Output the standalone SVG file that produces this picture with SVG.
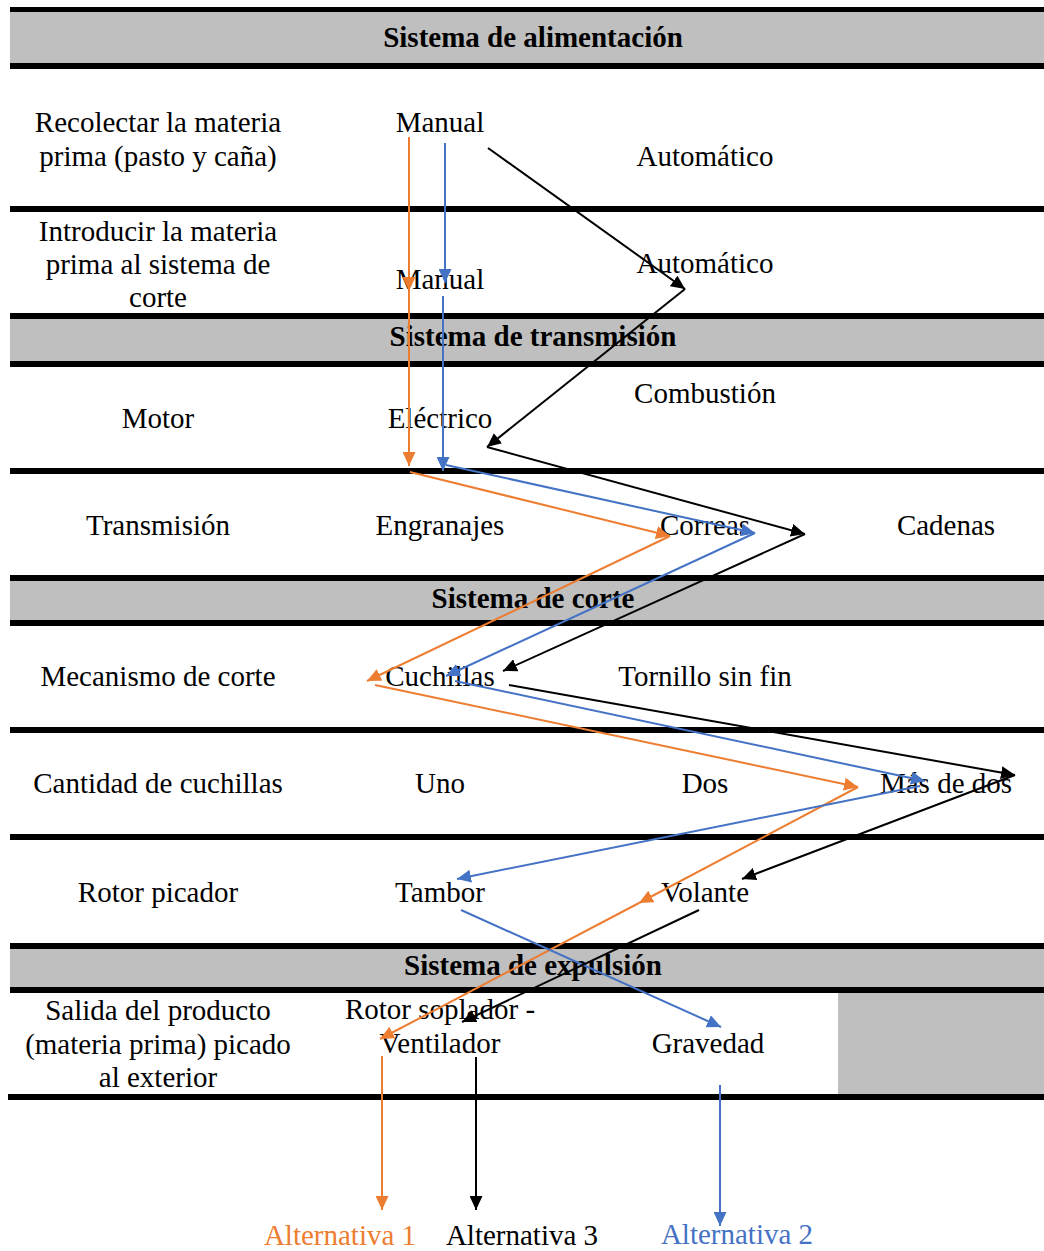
<svg xmlns="http://www.w3.org/2000/svg" width="1044" height="1251" viewBox="0 0 1044 1251">
  <style>
    .t { font-family: "Liberation Serif", "Times New Roman", serif; font-size: 29px; fill: #000; text-anchor: middle; }
    .h { font-family: "Liberation Serif", "Times New Roman", serif; font-size: 29px; font-weight: bold; fill: #000; text-anchor: middle; }
    .rule { fill: #000; }
    .band { fill: #bfbfbf; }
    .c { fill: none; stroke-width: 2; }
    .or { stroke: #ed7d31; }
    .bl { stroke: #4472c4; }
    .bk { stroke: #000; }
  </style>
  <defs>
    <marker id="aOr" markerUnits="userSpaceOnUse" markerWidth="14" markerHeight="13" refX="14" refY="6.5" orient="auto">
      <path d="M0,0 L14,6.5 L0,13 z" fill="#ed7d31"/>
    </marker>
    <marker id="aBl" markerUnits="userSpaceOnUse" markerWidth="14" markerHeight="13" refX="14" refY="6.5" orient="auto">
      <path d="M0,0 L14,6.5 L0,13 z" fill="#4472c4"/>
    </marker>
    <marker id="aBk" markerUnits="userSpaceOnUse" markerWidth="14" markerHeight="13" refX="14" refY="6.5" orient="auto">
      <path d="M0,0 L14,6.5 L0,13 z" fill="#000"/>
    </marker>
  </defs>

  <rect width="1044" height="1251" fill="#fff"/>

  <!-- table background: section bands and rules -->
  <g id="table">
    <rect class="band" x="10" y="12" width="1034" height="51"/>
    <rect class="band" x="10" y="319" width="1034" height="42"/>
    <rect class="band" x="10" y="581" width="1034" height="39"/>
    <rect class="band" x="10" y="949" width="1034" height="38"/>
    <rect class="band" x="838" y="992" width="206" height="103"/>
    <rect class="rule" x="10" y="7" width="1034" height="5"/>
    <rect class="rule" x="10" y="63" width="1034" height="6"/>
    <rect class="rule" x="10" y="206" width="1034" height="6"/>
    <rect class="rule" x="10" y="313" width="1034" height="6"/>
    <rect class="rule" x="10" y="361" width="1034" height="6"/>
    <rect class="rule" x="10" y="468" width="1034" height="6"/>
    <rect class="rule" x="10" y="575" width="1034" height="6"/>
    <rect class="rule" x="10" y="620" width="1034" height="6"/>
    <rect class="rule" x="10" y="727" width="1034" height="6"/>
    <rect class="rule" x="10" y="834" width="1034" height="6"/>
    <rect class="rule" x="10" y="943" width="1034" height="6"/>
    <rect class="rule" x="10" y="987" width="1034" height="6"/>
    <rect class="rule" x="8" y="1094" width="1036" height="6"/>
  </g>

  <!-- section headers -->
  <g id="h-alimentacion"><text class="h" x="533" y="47">Sistema de alimentación</text></g>
  <g id="h-transmision"><text class="h" x="533" y="346">Sistema de transmisión</text></g>
  <g id="h-corte"><text class="h" x="533" y="608">Sistema de corte</text></g>
  <g id="h-expulsion"><text class="h" x="533" y="975">Sistema de expulsión</text></g>

  <!-- row labels (function column) -->
  <g id="f-recolectar"><text class="t" x="158" y="132">Recolectar la materia</text><text class="t" x="158" y="166">prima (pasto y caña)</text></g>
  <g id="f-introducir"><text class="t" x="158" y="241">Introducir la materia</text><text class="t" x="158" y="274">prima al sistema de</text><text class="t" x="158" y="307">corte</text></g>
  <g id="f-motor"><text class="t" x="158" y="428">Motor</text></g>
  <g id="f-transmision"><text class="t" x="158" y="535">Transmisión</text></g>
  <g id="f-mecanismo"><text class="t" x="158" y="686">Mecanismo de corte</text></g>
  <g id="f-cantidad"><text class="t" x="158" y="793">Cantidad de cuchillas</text></g>
  <g id="f-rotor"><text class="t" x="158" y="902">Rotor picador</text></g>
  <g id="f-salida"><text class="t" x="158" y="1020">Salida del producto</text><text class="t" x="158" y="1054">(materia prima) picado</text><text class="t" x="158" y="1087">al exterior</text></g>

  <!-- options -->
  <g id="o-manual1"><text class="t" x="440" y="132">Manual</text></g>
  <g id="o-auto1"><text class="t" x="705" y="166">Automático</text></g>
  <g id="o-manual2"><text class="t" x="440" y="289">Manual</text></g>
  <g id="o-auto2"><text class="t" x="705" y="273">Automático</text></g>
  <g id="o-electrico"><text class="t" x="440" y="428">Eléctrico</text></g>
  <g id="o-combustion"><text class="t" x="705" y="403">Combustión</text></g>
  <g id="o-engranajes"><text class="t" x="440" y="535">Engranajes</text></g>
  <g id="o-correas"><text class="t" x="705" y="535">Correas</text></g>
  <g id="o-cadenas"><text class="t" x="946" y="535">Cadenas</text></g>
  <g id="o-cuchillas"><text class="t" x="440" y="686">Cuchillas</text></g>
  <g id="o-tornillo"><text class="t" x="705" y="686">Tornillo sin fin</text></g>
  <g id="o-uno"><text class="t" x="440" y="793">Uno</text></g>
  <g id="o-dos"><text class="t" x="705" y="793">Dos</text></g>
  <g id="o-masdedos"><text class="t" x="946" y="793">Más de dos</text></g>
  <g id="o-tambor"><text class="t" x="440" y="902">Tambor</text></g>
  <g id="o-volante"><text class="t" x="705" y="902">Volante</text></g>
  <g id="o-rotorsoplador"><text class="t" x="440" y="1019">Rotor soplador -</text><text class="t" x="440" y="1053">Ventilador</text></g>
  <g id="o-gravedad"><text class="t" x="708" y="1053">Gravedad</text></g>

  <!-- alternatives -->
  <g id="alt1"><text class="t" x="340" y="1245" style="fill:#ed7d31">Alternativa 1</text></g>
  <g id="alt3"><text class="t" x="522" y="1245">Alternativa 3</text></g>
  <g id="alt2"><text class="t" x="737" y="1244" style="fill:#4472c4">Alternativa 2</text></g>

  <!-- connectors -->
  <g id="connectors">
    <!-- alternative 1 (orange) -->
    <line class="c or" x1="409" y1="137" x2="409" y2="291" marker-end="url(#aOr)"/>
    <line class="c or" x1="409" y1="291" x2="409" y2="466" marker-end="url(#aOr)"/>
    <line class="c or" x1="410" y1="472" x2="670" y2="536" marker-end="url(#aOr)"/>
    <line class="c or" x1="670" y1="536" x2="367" y2="681" marker-end="url(#aOr)"/>
    <line class="c or" x1="375" y1="685" x2="858" y2="787" marker-end="url(#aOr)"/>
    <line class="c or" x1="858" y1="787" x2="639" y2="903" marker-end="url(#aOr)"/>
    <line class="c or" x1="639" y1="903" x2="380" y2="1039" marker-end="url(#aOr)"/>
    <line class="c or" x1="382" y1="1056" x2="382" y2="1210" marker-end="url(#aOr)"/>

    <!-- alternative 2 (blue) -->
    <line class="c bl" x1="445" y1="143" x2="445" y2="283" marker-end="url(#aBl)"/>
    <line class="c bl" x1="443" y1="296" x2="443" y2="471" marker-end="url(#aBl)"/>
    <line class="c bl" x1="446" y1="465" x2="755" y2="533" marker-end="url(#aBl)"/>
    <line class="c bl" x1="755" y1="533" x2="446" y2="676" marker-end="url(#aBl)"/>
    <line class="c bl" x1="455" y1="681" x2="925" y2="781" marker-end="url(#aBl)"/>
    <line class="c bl" x1="920" y1="786" x2="457" y2="879" marker-end="url(#aBl)"/>
    <line class="c bl" x1="461" y1="910" x2="721" y2="1027" marker-end="url(#aBl)"/>
    <line class="c bl" x1="720" y1="1085" x2="720" y2="1226" marker-end="url(#aBl)"/>

    <!-- alternative 3 (black) -->
    <line class="c bk" x1="488" y1="148" x2="685" y2="289" marker-end="url(#aBk)"/>
    <line class="c bk" x1="685" y1="289" x2="487" y2="447" marker-end="url(#aBk)"/>
    <line class="c bk" x1="487" y1="447" x2="805" y2="534" marker-end="url(#aBk)"/>
    <line class="c bk" x1="805" y1="534" x2="503" y2="671" marker-end="url(#aBk)"/>
    <line class="c bk" x1="509" y1="685" x2="1015" y2="775" marker-end="url(#aBk)"/>
    <line class="c bk" x1="1015" y1="775" x2="742" y2="879" marker-end="url(#aBk)"/>
    <line class="c bk" x1="699" y1="910" x2="462" y2="1022" marker-end="url(#aBk)"/>
    <line class="c bk" x1="476" y1="1057" x2="476" y2="1210" marker-end="url(#aBk)"/>
  </g>
</svg>
